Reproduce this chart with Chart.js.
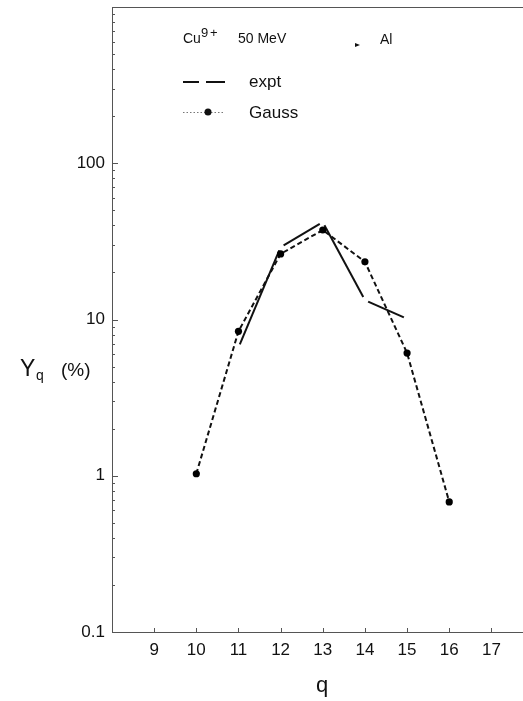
<!DOCTYPE html>
<html>
<head>
<meta charset="utf-8">
<title>Cu9+ 50 MeV charge state yields</title>
<script src="https://cdn.jsdelivr.net/npm/chart.js@4.4.0/dist/chart.umd.min.js"></script>
<style>
  html, body { margin: 0; padding: 0; background: #fff; }
  #wrap { width: 523px; height: 701px; }
</style>
</head>
<body>
<div id="wrap"><canvas id="yieldchart" width="523" height="701"></canvas></div>
<script>
// charge state yields, Cu 50 MeV on Al
const gaussCharge = [10, 11, 12, 13, 14, 15, 16];
const gaussYield = [1.03, 8.4, 26.3, 37.4, 23.4, 6.1, 0.68];
const exptCharge = [11, 12, 13, 14, 15];
const exptYield = [6.6, 29, 42, 13.3, 10.1];
const qTicks = [9, 10, 11, 12, 13, 14, 15, 16, 17];
const yTicks = [0.1, 1, 10, 100];

const FONT = '"Liberation Sans", Arial, Helvetica, sans-serif';
const INK = '#111';
const AXIS = '#555';

function toPoints(xs, ys) {
  return xs.map((x, i) => ({ x: x, y: ys[i] }));
}

// each expt piece gets its own dash so the breaks fall at the nodes
function segLen(c) {
  return Math.hypot(c.p1.x - c.p0.x, c.p1.y - c.p0.y);
}
const GAP = 7;

// frame, inward ticks, legend box text and y title
const decorations = {
  id: 'decorations',
  afterDraw(chart) {
    const ctx = chart.ctx;
    const area = chart.chartArea;
    const xs = chart.scales.x;
    const ys = chart.scales.y;
    ctx.save();

    // top border
    ctx.strokeStyle = AXIS;
    ctx.lineWidth = 1;
    ctx.beginPath();
    ctx.moveTo(area.left, area.top + 0.5);
    ctx.lineTo(area.right, area.top + 0.5);
    ctx.stroke();

    // x ticks
    ctx.beginPath();
    qTicks.forEach(v => {
      const px = Math.round(xs.getPixelForValue(v)) + 0.5;
      ctx.moveTo(px, area.bottom);
      ctx.lineTo(px, area.bottom - 4);
    });
    // y ticks, majors and minors
    for (let e = -1; e < 3; e++) {
      for (let k = 1; k < 10; k++) {
        const v = k * Math.pow(10, e);
        const py = Math.round(ys.getPixelForValue(v)) + 0.5;
        ctx.moveTo(area.left, py);
        ctx.lineTo(area.left + (k === 1 ? 6 : 3), py);
      }
    }
    ctx.stroke();

    // legend
    ctx.fillStyle = INK;
    ctx.textBaseline = 'alphabetic';
    ctx.textAlign = 'left';
    ctx.font = '14px ' + FONT;
    ctx.fillText('Cu', 183, 43);
    ctx.font = '13px ' + FONT;
    ctx.fillText('9', 201, 37);
    ctx.fillText('+', 210, 37);
    ctx.font = '14px ' + FONT;
    ctx.fillText('50 MeV', 238, 43);
    ctx.fillText('Al', 380, 44);
    // small arrow mark
    ctx.beginPath();
    ctx.moveTo(355, 43);
    ctx.lineTo(360, 45);
    ctx.lineTo(355, 47);
    ctx.closePath();
    ctx.fill();

    ctx.strokeStyle = INK;
    ctx.lineWidth = 1.8;
    ctx.beginPath();
    ctx.moveTo(183, 82); ctx.lineTo(199, 82);
    ctx.moveTo(206, 82); ctx.lineTo(225, 82);
    ctx.stroke();
    ctx.font = '17px ' + FONT;
    ctx.fillText('expt', 249, 87);

    ctx.strokeStyle = '#777';
    ctx.lineWidth = 1;
    ctx.setLineDash([1.5, 2]);
    ctx.beginPath();
    ctx.moveTo(183, 112.5); ctx.lineTo(225, 112.5);
    ctx.stroke();
    ctx.setLineDash([]);
    ctx.beginPath();
    ctx.arc(208, 112, 3.5, 0, Math.PI * 2);
    ctx.fill();
    ctx.fillText('Gauss', 249, 118);

    // y title with subscript
    ctx.font = '23px ' + FONT;
    ctx.fillText('Y', 20, 376);
    ctx.font = '14px ' + FONT;
    ctx.fillText('q', 36, 380);
    ctx.font = '19px ' + FONT;
    ctx.fillText('(%)', 61, 376);

    // x title
    ctx.font = '22px ' + FONT;
    ctx.textAlign = 'center';
    ctx.fillText('q', 322, 692);

    ctx.restore();
  }
};

new Chart(document.getElementById('yieldchart'), {
  type: 'line',
  data: {
    datasets: [
      {
        label: 'Gauss',
        data: toPoints(gaussCharge, gaussYield),
        borderColor: INK,
        borderWidth: 2,
        borderDash: [5, 3],
        pointRadius: 3.6,
        pointBackgroundColor: '#000',
        pointBorderWidth: 0,
        tension: 0
      },
      {
        label: 'expt',
        data: toPoints(exptCharge, exptYield),
        borderColor: INK,
        borderWidth: 2,
        pointRadius: 0,
        tension: 0,
        segment: {
          borderDash: c => [segLen(c) - GAP, GAP],
          borderDashOffset: c => segLen(c) - GAP / 2
        }
      }
    ]
  },
  options: {
    responsive: false,
    animation: false,
    devicePixelRatio: 1,
    layout: { autoPadding: false, padding: { top: 7, right: 0, left: 0, bottom: 0 } },
    plugins: {
      legend: { display: false },
      tooltip: { enabled: false }
    },
    scales: {
      x: {
        type: 'linear',
        min: 8,
        max: 17.75,
        afterBuildTicks: s => { s.ticks = qTicks.map(v => ({ value: v })); },
        afterFit: s => {
          s.height = 69;
          s.paddingLeft = 0;
          s.paddingRight = 0;
        },
        ticks: {
          font: { family: FONT, size: 17 },
          color: INK,
          padding: 8,
          maxRotation: 0,
          autoSkip: false
        },
        grid: { display: false, drawTicks: false, tickLength: 0 },
        border: { display: true, color: AXIS, width: 1 }
      },
      y: {
        type: 'logarithmic',
        min: 0.1,
        max: 1000,
        afterBuildTicks: s => { s.ticks = yTicks.map(v => ({ value: v })); },
        afterFit: s => {
          s.width = 112;
          s.paddingTop = 0;
          s.paddingBottom = 0;
        },
        ticks: {
          font: { family: FONT, size: 17 },
          color: INK,
          padding: 7,
          autoSkip: false,
          callback: v => (v < 1 ? v.toFixed(1) : String(v))
        },
        grid: { display: false, drawTicks: false, tickLength: 0 },
        border: { display: true, color: AXIS, width: 1 }
      }
    }
  },
  plugins: [decorations]
});
</script>
</body>
</html>
